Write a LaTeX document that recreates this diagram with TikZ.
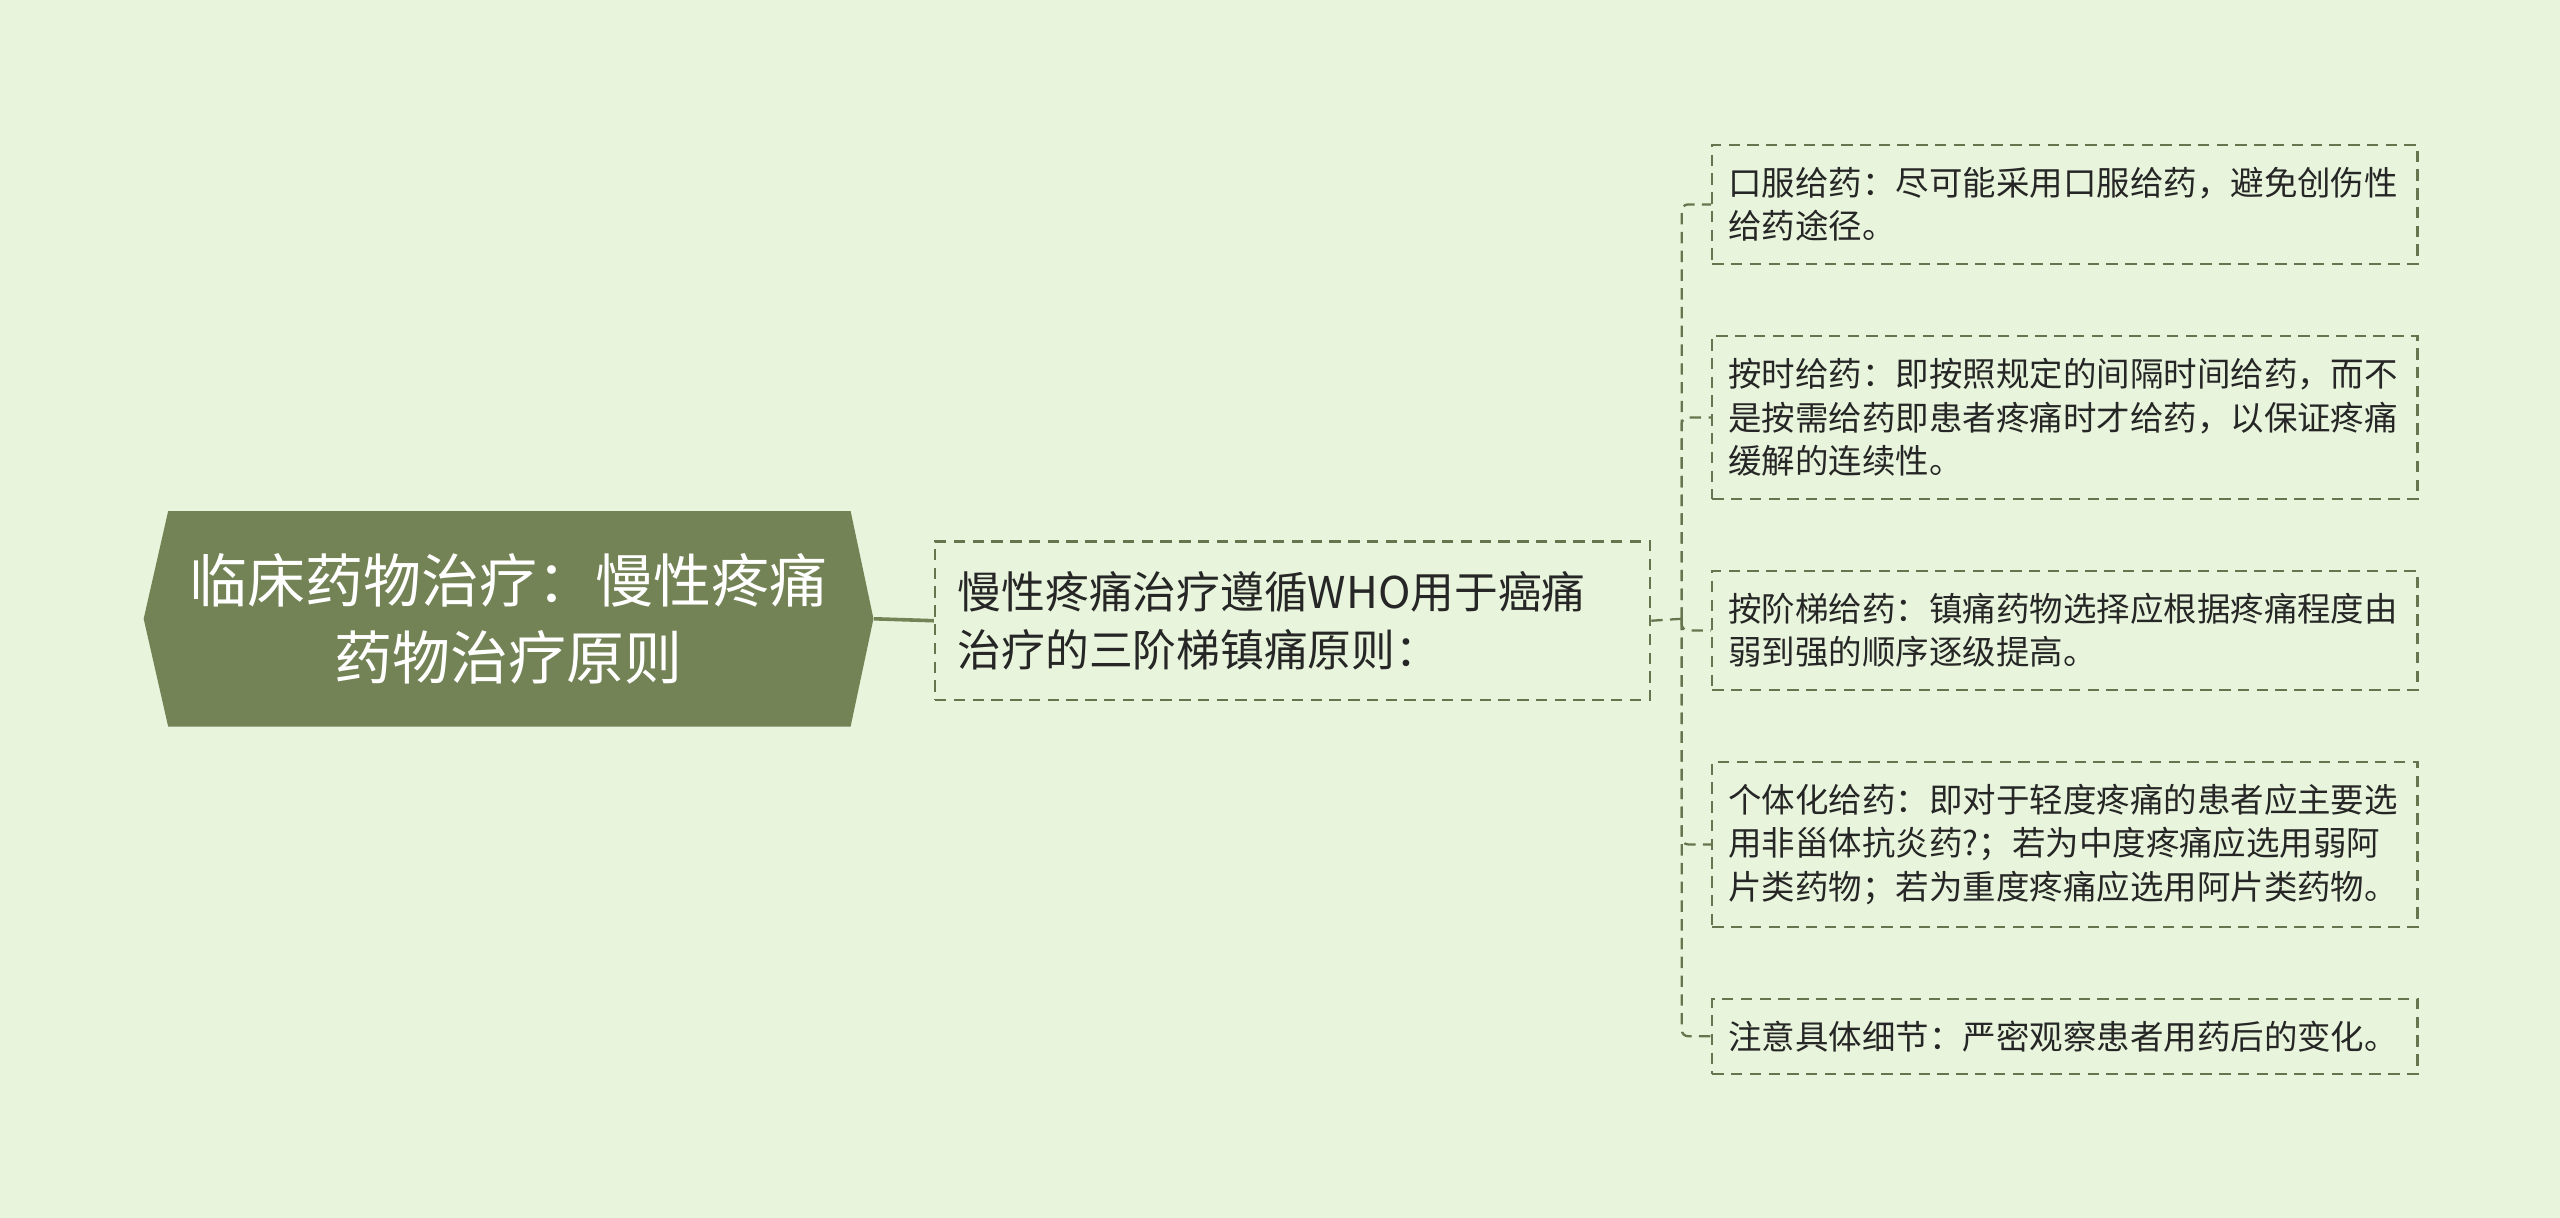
\documentclass[tikz,border=0pt]{standalone}
\usepackage{fontspec}
\setmainfont{Noto Sans CJK SC}
\definecolor{bgc}{RGB}{232,245,220}
\definecolor{rootc}{RGB}{115,131,85}
\definecolor{linec}{RGB}{104,116,78}
\definecolor{txtc}{RGB}{38,38,38}
\begin{document}
\begin{tikzpicture}[x=1pt,y=-1pt,
  dashbox/.style={draw=linec,line width=1.4pt,dash pattern=on 7pt off 4.5pt,
    anchor=north west,align=left,text=txtc,inner ysep=0pt},
  childbox/.style={dashbox,minimum width=432pt,text width=412pt,inner xsep=10pt,
    font=\fontsize{20.5pt}{26.5pt}\selectfont},
  conn/.style={draw=linec,line width=1.4pt,dash pattern=on 7pt off 4.5pt,rounded corners=4pt}]
\fill[bgc] (0,0) rectangle (1568,746);
\useasboundingbox (0,0) rectangle (1568,746);
% root
\fill[rootc] (88,379) -- (103,313) -- (521,313) -- (535,379) -- (521,445) -- (103,445) -- cycle;
\node[minimum width=447pt,minimum height=132pt,inner sep=0pt,text=white,align=center,
  font=\fontsize{35.5pt}{47pt}\selectfont] (root) at (311.5,379) {临床药物治疗：慢性疼痛\\药物治疗原则};
% middle
\node[dashbox,minimum width=438pt,minimum height=97pt,text width=410pt,inner xsep=14pt,
  font=\fontsize{26.8pt}{36pt}\selectfont] (mid) at (572,331) {慢性疼痛治疗遵循WHO用于癌痛\\治疗的三阶梯镇痛原则：};
% children
\node[childbox,minimum height=73pt] (c1) at (1048,88) {口服给药：尽可能采用口服给药，避免创伤性\\给药途径。};
\node[childbox,minimum height=100pt] (c2) at (1048,205) {按时给药：即按照规定的间隔时间给药，而不\\是按需给药即患者疼痛时才给药，以保证疼痛\\缓解的连续性。};
\node[childbox,minimum height=73pt] (c3) at (1048,349) {按阶梯给药：镇痛药物选择应根据疼痛程度由\\弱到强的顺序逐级提高。};
\node[childbox,minimum height=101pt] (c4) at (1048,466) {个体化给药：即对于轻度疼痛的患者应主要选\\用非甾体抗炎药?；若为中度疼痛应选用弱阿\\片类药物；若为重度疼痛应选用阿片类药物。};
\node[childbox,minimum height=46pt] (c5) at (1048,611) {注意具体细节：严密观察患者用药后的变化。};
% connectors
\draw[draw=rootc,line width=2.2pt] (root.east) -- (mid.west);
\coordinate (fork) at (1030,379);
\draw[conn] (mid.east) -- (fork);
\foreach \c in {c1,c2,c3,c4,c5}{
  \draw[conn] (fork) |- (\c.west);
}
\end{tikzpicture}
\end{document}
